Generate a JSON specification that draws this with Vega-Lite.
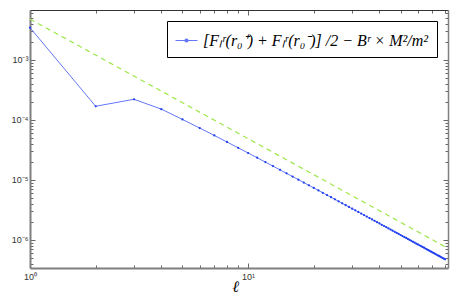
{
  "$schema": "https://vega.github.io/schema/vega-lite/v6.json",
  "width": 418,
  "height": 258,
  "autosize": {"type": "none"},
  "padding": {"left": 30, "top": 10, "right": 18, "bottom": 31},
  "background": "white",
  "config": {"view": {"stroke": null}, "axis": {"grid": false}},
  "datasets": {
    "green": [{"l": 1, "v": 4.8e-3}, {"l": 80, "v": 7.7e-7}],
    "blue": [
      {"l": 1, "v": 3.45e-3}, {"l": 2, "v": 1.69e-4}, {"l": 3, "v": 2.21e-4}, {"l": 4, "v": 1.513e-4},
      {"l": 5, "v": 1.02e-4}, {"l": 6, "v": 7.32e-5}, {"l": 7, "v": 5.51e-5}, {"l": 8, "v": 4.29e-5},
      {"l": 9, "v": 3.43e-5}, {"l": 10, "v": 2.81e-5}, {"l": 11, "v": 2.342e-5}, {"l": 12, "v": 1.981e-5},
      {"l": 13, "v": 1.698e-5}, {"l": 14, "v": 1.471e-5}, {"l": 15, "v": 1.287e-5}, {"l": 16, "v": 1.136e-5},
      {"l": 17, "v": 1.009e-5}, {"l": 18, "v": 9.03e-6}, {"l": 19, "v": 8.125e-6}, {"l": 20, "v": 7.35e-6},
      {"l": 21, "v": 6.68e-6}, {"l": 22, "v": 6.099e-6}, {"l": 23, "v": 5.589e-6}, {"l": 24, "v": 5.142e-6},
      {"l": 25, "v": 4.746e-6}, {"l": 26, "v": 4.393e-6}, {"l": 27, "v": 4.079e-6}, {"l": 28, "v": 3.798e-6},
      {"l": 29, "v": 3.543e-6}, {"l": 30, "v": 3.315e-6}, {"l": 31, "v": 3.108e-6}, {"l": 32, "v": 2.919e-6},
      {"l": 33, "v": 2.747e-6}, {"l": 34, "v": 2.59e-6}, {"l": 35, "v": 2.445e-6}, {"l": 36, "v": 2.313e-6},
      {"l": 37, "v": 2.192e-6}, {"l": 38, "v": 2.079e-6}, {"l": 39, "v": 1.974e-6}, {"l": 40, "v": 1.878e-6},
      {"l": 41, "v": 1.788e-6}, {"l": 42, "v": 1.705e-6}, {"l": 43, "v": 1.627e-6}, {"l": 44, "v": 1.555e-6},
      {"l": 45, "v": 1.487e-6}, {"l": 46, "v": 1.424e-6}, {"l": 47, "v": 1.365e-6}, {"l": 48, "v": 1.308e-6},
      {"l": 49, "v": 1.257e-6}, {"l": 50, "v": 1.207e-6}, {"l": 51, "v": 1.16e-6}, {"l": 52, "v": 1.117e-6},
      {"l": 53, "v": 1.076e-6}, {"l": 54, "v": 1.036e-6}, {"l": 55, "v": 9.99e-7}, {"l": 56, "v": 9.64e-7},
      {"l": 57, "v": 9.31e-7}, {"l": 58, "v": 9.0e-7}, {"l": 59, "v": 8.69e-7}, {"l": 60, "v": 8.41e-7},
      {"l": 61, "v": 8.14e-7}, {"l": 62, "v": 7.88e-7}, {"l": 63, "v": 7.63e-7}, {"l": 64, "v": 7.4e-7},
      {"l": 65, "v": 7.17e-7}, {"l": 66, "v": 6.96e-7}, {"l": 67, "v": 6.75e-7}, {"l": 68, "v": 6.56e-7},
      {"l": 69, "v": 6.37e-7}, {"l": 70, "v": 6.19e-7}, {"l": 71, "v": 6.02e-7}, {"l": 72, "v": 5.85e-7},
      {"l": 73, "v": 5.69e-7}, {"l": 74, "v": 5.54e-7}, {"l": 75, "v": 5.4e-7}, {"l": 76, "v": 5.26e-7},
      {"l": 77, "v": 5.12e-7}, {"l": 78, "v": 4.99e-7}, {"l": 79, "v": 4.87e-7}, {"l": 80, "v": 4.75e-7}
    ]
  },
  "layer": [
    {
      "data": {"name": "green"},
      "mark": {"type": "line", "color": "#9de64a", "strokeWidth": 1.2, "strokeDash": [5, 4]},
      "encoding": {
        "x": {
          "field": "l", "type": "quantitative",
          "scale": {"type": "log", "domain": [1, 82.5], "nice": false},
          "axis": {
            "orient": "bottom",
            "values": [1, 2, 3, 4, 5, 6, 7, 8, 9, 10, 20, 30, 40, 50, 60, 70, 80],
            "labelExpr": "datum.value == 1 ? '10⁰' : datum.value == 10 ? '10¹' : ''",
            "tickSize": {"condition": {"test": "datum.value == 1 || datum.value == 10", "value": -5}, "value": -3},
            "tickColor": "#666", "tickWidth": 1,
            "domainColor": "#7f7f7f", "domainWidth": 2,
            "labelFont": "Liberation Sans", "labelFontSize": 9, "labelColor": "#333",
            "labelPadding": 9, "labelOverlap": false, "labelFlush": false,
            "title": "ℓ", "titleFont": "Liberation Serif", "titleFontStyle": "italic", "titleFontWeight": "normal",
            "titleFontSize": 16, "titleColor": "#000", "titlePadding": -5, "titleX": 205
          }
        },
        "y": {
          "field": "v", "type": "quantitative",
          "scale": {"type": "log", "domain": [3.4e-7, 6.8e-3], "nice": false},
          "axis": {
            "orient": "left",
            "values": [4e-7, 5e-7, 6e-7, 7e-7, 8e-7, 9e-7, 1e-6, 2e-6, 3e-6, 4e-6, 5e-6, 6e-6, 7e-6, 8e-6, 9e-6, 1e-5, 2e-5, 3e-5, 4e-5, 5e-5, 6e-5, 7e-5, 8e-5, 9e-5, 1e-4, 2e-4, 3e-4, 4e-4, 5e-4, 6e-4, 7e-4, 8e-4, 9e-4, 1e-3, 2e-3, 3e-3, 4e-3, 5e-3, 6e-3],
            "labelExpr": "datum.value == 1e-3 ? '10⁻³' : datum.value == 1e-4 ? '10⁻⁴' : datum.value == 1e-5 ? '10⁻⁵' : datum.value == 1e-6 ? '10⁻⁶' : ''",
            "tickSize": {"condition": {"test": "datum.value == 1e-3 || datum.value == 1e-4 || datum.value == 1e-5 || datum.value == 1e-6", "value": -5}, "value": -3},
            "tickColor": "#666", "tickWidth": 1,
            "domainColor": "#7f7f7f", "domainWidth": 2,
            "labelFont": "Liberation Sans", "labelFontSize": 9, "labelColor": "#333",
            "labelPadding": 7, "labelOverlap": false, "labelFlush": false,
            "title": null
          }
        }
      }
    },
    {
      "data": {"name": "blue"},
      "mark": {"type": "line", "strokeWidth": 1},
      "encoding": {
        "x": {
          "field": "l", "type": "quantitative",
          "scale": {"type": "log", "domain": [1, 82.5], "nice": false},
          "axis": {
            "orient": "top", "labels": false, "title": null,
            "values": [1, 2, 3, 4, 5, 6, 7, 8, 9, 10, 20, 30, 40, 50, 60, 70, 80],
            "tickSize": {"condition": {"test": "datum.value == 1 || datum.value == 10", "value": -5}, "value": -3},
            "tickColor": "#666", "tickWidth": 1,
            "domainColor": "#333", "domainWidth": 1
          }
        },
        "y": {
          "field": "v", "type": "quantitative",
          "scale": {"type": "log", "domain": [3.4e-7, 6.8e-3], "nice": false},
          "axis": {
            "orient": "right", "labels": false, "title": null,
            "values": [4e-7, 5e-7, 6e-7, 7e-7, 8e-7, 9e-7, 1e-6, 2e-6, 3e-6, 4e-6, 5e-6, 6e-6, 7e-6, 8e-6, 9e-6, 1e-5, 2e-5, 3e-5, 4e-5, 5e-5, 6e-5, 7e-5, 8e-5, 9e-5, 1e-4, 2e-4, 3e-4, 4e-4, 5e-4, 6e-4, 7e-4, 8e-4, 9e-4, 1e-3, 2e-3, 3e-3, 4e-3, 5e-3, 6e-3],
            "tickSize": {"condition": {"test": "datum.value == 1e-3 || datum.value == 1e-4 || datum.value == 1e-5 || datum.value == 1e-6", "value": -5}, "value": -3},
            "tickColor": "#666", "tickWidth": 1,
            "domainColor": "#7f7f7f", "domainWidth": 1.5
          }
        },
        "color": {
          "datum": "[Fₗʳ(r₀⁺) + Fₗʳ(r₀⁻)] /2 − Bʳ × M²/m²",
          "type": "nominal",
          "scale": {"range": ["#6478f6"]},
          "legend": {
            "orient": "top-right", "offset": 11, "title": null,
            "strokeColor": "#000", "fillColor": "#fff", "padding": 8,
            "symbolType": "M-1,0H1M-0.12,-0.12H0.12V0.12H-0.12Z",
            "symbolSize": 484, "symbolStrokeWidth": 1, "symbolStrokeColor": "#6478f6", "symbolFillColor": "#2040f0",
            "labelFont": "Liberation Serif", "labelFontSize": 16, "labelFontStyle": "italic",
            "labelLimit": 0, "labelOffset": 5, "labelColor": "#000"
          }
        }
      }
    },
    {
      "data": {"name": "blue"},
      "mark": {"type": "point", "filled": true, "shape": "circle", "size": 5, "color": "#1f3ef0", "opacity": 1},
      "encoding": {
        "x": {"field": "l", "type": "quantitative", "scale": {"type": "log", "domain": [1, 82.5], "nice": false}, "axis": null},
        "y": {"field": "v", "type": "quantitative", "scale": {"type": "log", "domain": [3.4e-7, 6.8e-3], "nice": false}, "axis": null}
      }
    }
  ]
}
